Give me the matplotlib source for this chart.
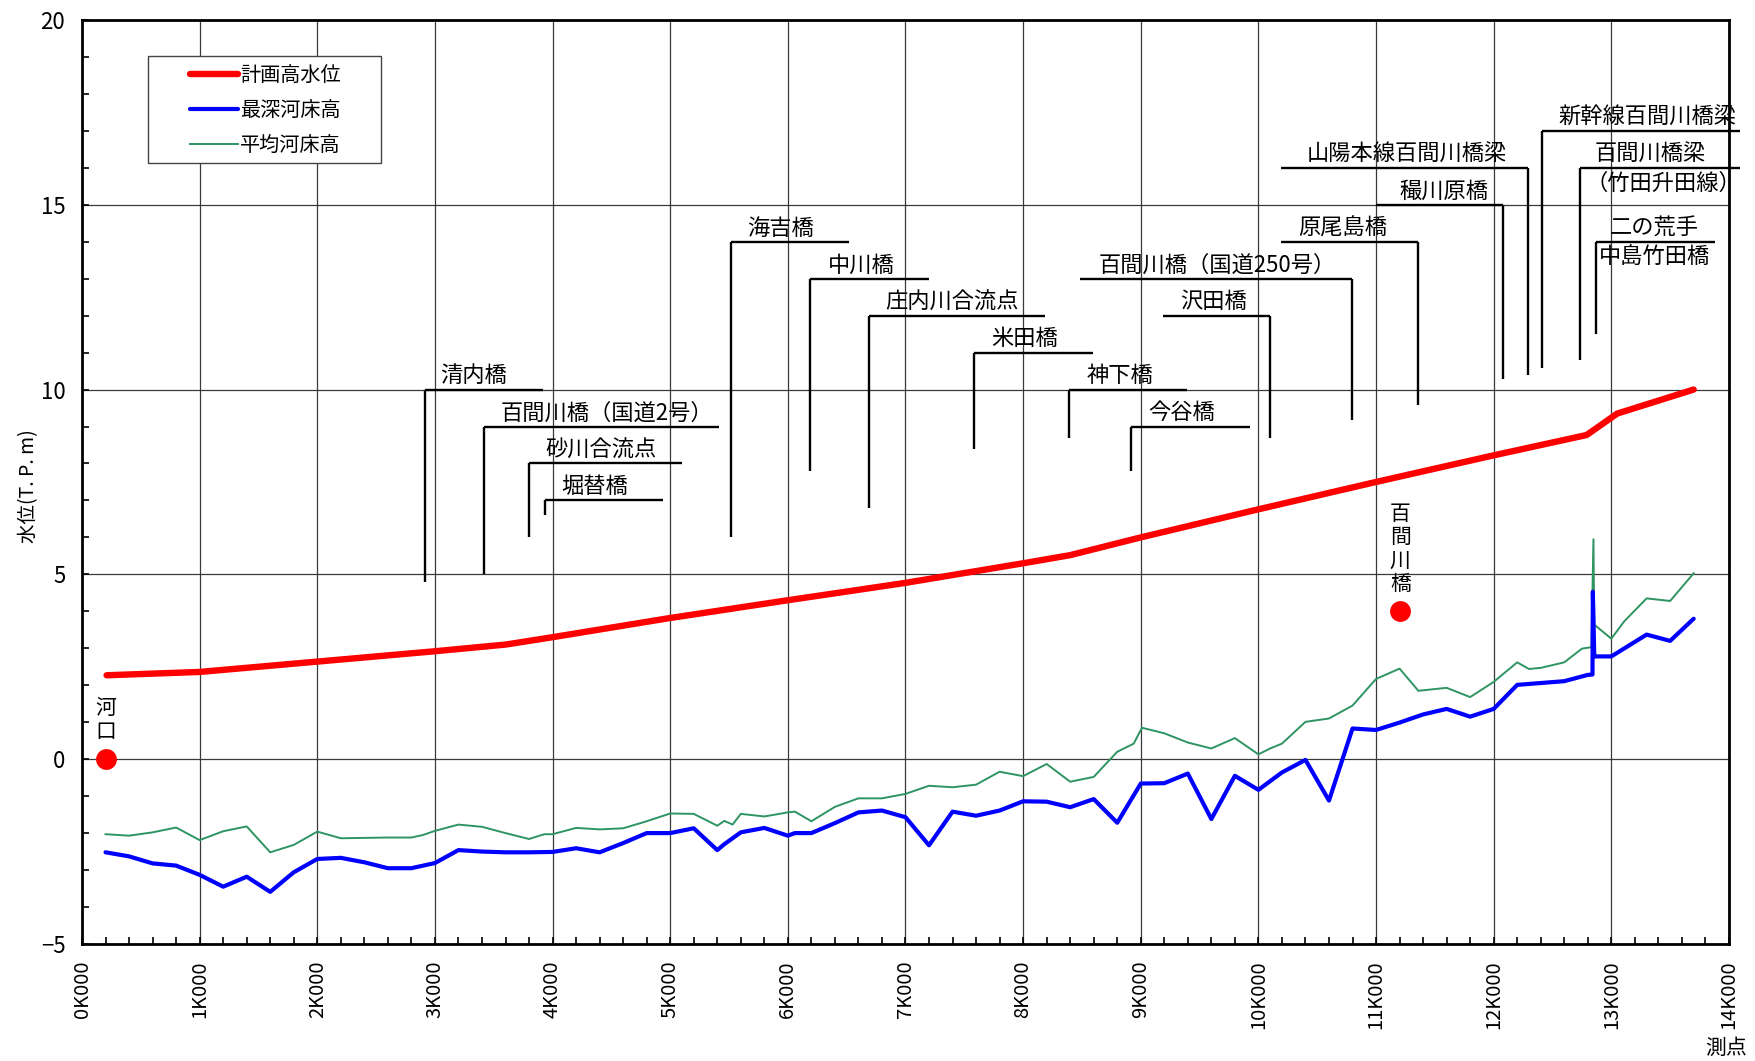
import matplotlib
matplotlib.use('Agg')
import matplotlib.pyplot as plt
from matplotlib.patches import Rectangle
from matplotlib.ticker import MultipleLocator, FuncFormatter

plt.rcParams['font.family'] = ['Noto Sans CJK JP', 'DejaVu Sans']

# 計画高水位
hwl_x = [209, 1000, 2000, 3000, 3600, 4000, 5000, 6000, 7000, 8000, 8400,
         9000, 10000, 11000, 12000, 12790, 13050, 13700]
hwl_y = [2.27, 2.36, 2.64, 2.92, 3.10, 3.30, 3.82, 4.30, 4.77, 5.30, 5.52,
         6.00, 6.76, 7.50, 8.22, 8.77, 9.35, 10.00]

# 最深河床高
deep_x = [200, 400, 600, 800, 1000, 1200, 1400, 1600, 1800, 2000, 2200, 2400,
          2600, 2800, 3000, 3200, 3400, 3600, 3800, 4000, 4200, 4400, 4600,
          4800, 5000, 5200, 5400, 5460, 5600, 5800, 6000, 6060, 6200, 6400,
          6600, 6800, 7000, 7200, 7400, 7600, 7800, 8000, 8200, 8400, 8600,
          8800, 9000, 9200, 9400, 9600, 9800, 10000, 10200, 10400, 10600,
          10800, 11000, 11200, 11400, 11600, 11800, 12000, 12200, 12400,
          12600, 12800, 12840, 12843, 12855, 13000, 13300, 13500, 13700]
deep_y = [-2.52, -2.63, -2.82, -2.88, -3.13, -3.45, -3.18, -3.59, -3.06, -2.70,
          -2.67, -2.79, -2.95, -2.95, -2.81, -2.46, -2.50, -2.52, -2.52, -2.51,
          -2.41, -2.52, -2.27, -2.00, -2.00, -1.87, -2.46, -2.30, -1.98, -1.86,
          -2.07, -2.00, -2.00, -1.73, -1.44, -1.39, -1.57, -2.33, -1.42, -1.53,
          -1.39, -1.14, -1.15, -1.30, -1.08, -1.72, -0.66, -0.65, -0.39, -1.62,
          -0.45, -0.83, -0.36, -0.02, -1.12, 0.83, 0.79, 0.99, 1.21, 1.36,
          1.15, 1.36, 2.01, 2.06, 2.11, 2.28, 2.29, 4.53, 2.78, 2.78, 3.37,
          3.20, 3.80]

# 平均河床高
mean_x = [200, 400, 600, 800, 1000, 1200, 1400, 1600, 1800, 2000, 2200, 2400,
          2600, 2800, 2900, 3000, 3200, 3400, 3600, 3800, 3930, 4000, 4200,
          4400, 4600, 4800, 5000, 5200, 5400, 5460, 5530, 5600, 5800, 6000,
          6060, 6200, 6400, 6600, 6800, 7000, 7200, 7400, 7600, 7800, 8000,
          8200, 8400, 8600, 8800, 8940, 9010, 9200, 9400, 9600, 9800, 10000,
          10100, 10200, 10400, 10600, 10800, 11000, 11200, 11360, 11600,
          11800, 12000, 12200, 12300, 12400, 12600, 12750, 12831, 12848,
          12855, 13000, 13110, 13300, 13500, 13700]
mean_y = [-2.03, -2.07, -1.98, -1.85, -2.19, -1.95, -1.82, -2.52, -2.32, -1.96,
          -2.14, -2.13, -2.12, -2.12, -2.05, -1.94, -1.77, -1.83, -2.00, -2.16,
          -2.03, -2.03, -1.86, -1.90, -1.87, -1.68, -1.47, -1.48, -1.80, -1.67,
          -1.77, -1.48, -1.55, -1.44, -1.42, -1.68, -1.29, -1.06, -1.06, -0.94,
          -0.72, -0.76, -0.69, -0.34, -0.46, -0.13, -0.61, -0.48, 0.20, 0.42,
          0.85, 0.70, 0.45, 0.29, 0.57, 0.13, 0.29, 0.42, 1.01, 1.10, 1.45,
          2.17, 2.45, 1.85, 1.93, 1.68, 2.09, 2.62, 2.44, 2.47, 2.62, 2.99,
          3.03, 5.95, 3.64, 3.26, 3.73, 4.35, 4.28, 5.03]

# 地点 (赤丸)
point_names = ['河口', '百間川橋']
point_x = [204, 11207]
point_y = [0.0, 4.0]

# 橋梁などの引出線
bridge_names = ['清内橋', '百間川橋（国道2号）', '砂川合流点', '堀替橋', '海吉橋',
                '中川橋', '庄内川合流点', '米田橋', '神下橋', '今谷橋',
                '百間川橋（国道250号）', '沢田橋', '原尾島橋', '山陽本線百間川橋梁',
                '穝川原橋', '新幹線百間川橋梁', '百間川橋梁', '二の荒手']
bridge_sub = ['', '', '', '', '', '', '', '', '', '', '', '', '', '', '', '',
              '（竹田升田線）', '中島竹田橋']
bridge_x = [2915, 3415, 3796, 3935, 5520, 6187, 6688, 7585, 8387, 8916,
            10795, 10096, 11356, 12289, 12078, 12410, 12735, 12870]
bridge_left = [2915, 3415, 3796, 3935, 5520, 6187, 6688, 7585, 8387, 8916,
               8487, 9191, 10193, 10193, 11000, 12410, 12735, 12870]
bridge_right = [3916, 5418, 5098, 4941, 6522, 7200, 8190, 8596, 9389, 9932,
                10795, 10096, 11356, 12289, 12078, 14090, 14090, 13880]
bridge_level = [10, 9, 8, 7, 14, 13, 12, 11, 10, 9, 13, 12, 14, 16, 15, 17, 16, 14]
bridge_bottom = [4.79, 5.0, 6.0, 6.6, 6.0, 7.8, 6.8, 8.4, 8.7, 7.8, 9.17, 8.68,
                 9.58, 10.39, 10.28, 10.59, 10.79, 11.5]
label_x = [3048, 3558, 3939, 4078, 5656, 6338, 6829, 7730, 8541, 9066, 8641,
           9333, 10337, 10413, 11196, 12551, 12861, 12988]
sub_x = [0, 0, 0, 0, 0, 0, 0, 0, 0, 0, 0, 0, 0, 0, 0, 0, 12777, 12892]

fig = plt.figure(figsize=(17.56, 10.61), dpi=100)
fig.set_facecolor('white')
ax = fig.add_axes([0.0467, 0.1103, 0.9379, 0.8709])

ax.set_xlim(0, 14000)
ax.set_ylim(-5, 20)
ax.xaxis.set_major_locator(MultipleLocator(1000))
ax.xaxis.set_minor_locator(MultipleLocator(200))
ax.yaxis.set_major_locator(MultipleLocator(5))
ax.yaxis.set_minor_locator(MultipleLocator(1))
ax.xaxis.set_major_formatter(FuncFormatter(lambda v, p: '%dK000' % int(round(v / 1000))))
ax.tick_params(axis='both', which='both', direction='in', width=1.2)
ax.tick_params(axis='both', which='major', length=5, pad=12)
ax.tick_params(axis='both', which='minor', length=5)
ax.tick_params(axis='x', labelsize=14.5)
ax.tick_params(axis='y', labelsize=16)
plt.setp(ax.get_xticklabels(), rotation=90)
ax.grid(True, which='major', color='#3a3a3a', lw=0.9)
ax.set_axisbelow(True)
for s in ax.spines.values():
    s.set_linewidth(2.0)

ax.set_ylabel('水位(T. P. m)', fontsize=14)
ax.yaxis.set_label_coords(-0.026, 0.496)
fig.text(1726 / 1756, 1 - 1048 / 1061, '測点', fontsize=15, ha='center', va='center')

ax.plot(hwl_x, hwl_y, color='#ff0000', lw=4.6, solid_capstyle='round', label='計画高水位', zorder=5)
ax.plot(deep_x, deep_y, color='#0000ff', lw=3.0, solid_capstyle='round', label='最深河床高', zorder=4)
ax.plot(mean_x, mean_y, color='#2e9462', lw=1.4, label='平均河床高', zorder=3)

# 地点
ax.plot(point_x, point_y, 'o', color='#ff0000', ms=15, mec='none', zorder=6)
for name, px, py in zip(point_names, point_x, point_y):
    ax.text(px, py + 0.45, '\n'.join(name), fontsize=15, ha='center', va='bottom',
            linespacing=1.08, zorder=6)

# 引出線
for i in range(len(bridge_names)):
    ax.plot([bridge_left[i], bridge_right[i]], [bridge_level[i]] * 2,
            color='k', lw=1.7, clip_on=False, zorder=4, solid_capstyle='butt')
    ax.plot([bridge_x[i], bridge_x[i]], [bridge_level[i], bridge_bottom[i]],
            color='k', lw=1.7, clip_on=False, zorder=4, solid_capstyle='butt')
    ax.text(label_x[i], bridge_level[i] + 0.06, bridge_names[i], fontsize=16,
            ha='left', va='bottom', clip_on=False, zorder=6)
    if bridge_sub[i]:
        ax.text(sub_x[i], bridge_level[i] - 0.1, bridge_sub[i], fontsize=16,
                ha='left', va='top', clip_on=False, zorder=6)

# 凡例
ax.add_patch(Rectangle((0.0401, 0.8452), 0.1415, 0.1158, transform=ax.transAxes,
                       facecolor='white', edgecolor='#444444', lw=1.0, zorder=7))
leg = ax.legend(loc='upper left', bbox_to_anchor=(0.0656, 0.9515), frameon=False,
                fontsize=14.5, handlelength=2.4, handletextpad=0.1, borderpad=0,
                borderaxespad=0, labelspacing=0.7)
leg.set_zorder(8)

plt.savefig('out.png', dpi=100)
